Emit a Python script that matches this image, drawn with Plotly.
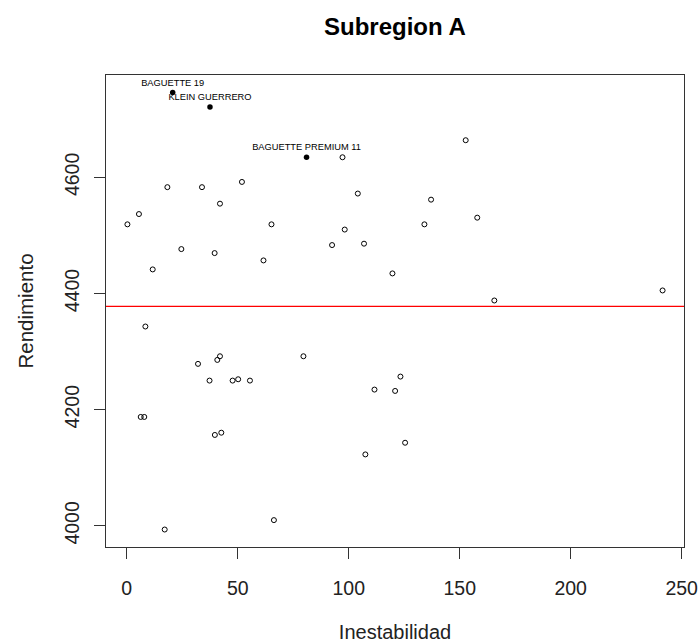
import plotly.graph_objects as go

# ---- data ----
inestabilidad = [97.2, 152.7, 18.3, 33.9, 51.9, 42.0, 5.5, 0.3, 65.2, 98.2, 104.1, 137.1,
                 157.9, 134.1, 24.6, 39.6, 61.6, 92.5, 106.9, 11.7, 119.7, 165.6, 241.4,
                 8.4, 32.1, 40.8, 42.0, 79.6, 37.3, 47.7, 50.2, 55.5, 111.6, 120.9, 123.3,
                 6.3, 7.9, 39.7, 42.6, 17.1, 66.3, 107.5, 125.4]
rendimiento = [4634.5, 4663.8, 4583, 4583, 4592, 4554.6, 4536.7, 4519, 4519, 4510, 4572,
               4561.5, 4530.5, 4519, 4476.4, 4469.5, 4456.9, 4483.3, 4485.7, 4441.4, 4434.5,
               4387.9, 4405.2, 4343.1, 4278.8, 4285.6, 4291.9, 4291.9, 4250, 4250, 4252.3,
               4250, 4234.5, 4232.2, 4256.9, 4187.4, 4187.4, 4156.4, 4160.3, 3993.6, 4009.8,
               4122.9, 4143]

etiquetas = ["BAGUETTE 19", "KLEIN GUERRERO", "BAGUETTE PREMIUM 11"]
etiq_x = [20.7, 37.5, 81.0]
etiq_y = [4746, 4721, 4634.5]

media_rendimiento = 4377.6

x_ticks = [0, 50, 100, 150, 200, 250]
y_ticks = [4000, 4200, 4400, 4600]

# R-style 4% axis extension
all_x = inestabilidad + etiq_x
all_y = rendimiento + etiq_y
sx = max(all_x) - min(all_x)
sy = max(all_y) - min(all_y)
x_range = [min(all_x) - 0.04 * sx, max(all_x) + 0.04 * sx]
y_range = [min(all_y) - 0.04 * sy, max(all_y) + 0.04 * sy]

FONT = "Liberation Sans, Arial, sans-serif"

fig = go.Figure()
fig.add_trace(go.Scatter(
    x=inestabilidad, y=rendimiento, mode="markers",
    marker=dict(symbol="circle-open", size=5, color="black", line=dict(width=1, color="black")),
    showlegend=False, hoverinfo="x+y"))
fig.add_trace(go.Scatter(
    x=etiq_x, y=etiq_y, mode="markers+text", text=etiquetas,
    textposition="top center",
    textfont=dict(family=FONT, size=9.3, color="black"),
    marker=dict(symbol="circle", size=5.5, color="black"),
    showlegend=False, hoverinfo="text+x+y"))

fig.add_shape(type="line", xref="paper", x0=0, x1=1, yref="y",
              y0=media_rendimiento, y1=media_rendimiento,
              line=dict(color="#ff0000", width=1.3))

fig.add_annotation(text="<b>Subregion A</b>", xref="paper", x=0.5, xanchor="center",
                   yref="paper", y=1, yshift=49, yanchor="middle", showarrow=False,
                   font=dict(family=FONT, size=24, color="black"))

fig.update_layout(
    width=698, height=643,
    margin=dict(l=106, r=14, t=75, b=96),
    paper_bgcolor="white", plot_bgcolor="white",
    font=dict(family=FONT, color="black"),
)
fig.update_xaxes(
    range=x_range, tickmode="array", tickvals=x_ticks, automargin=False,
    showgrid=False, zeroline=False,
    showline=True, mirror=True, linecolor="#333333", linewidth=1,
    ticks="outside", ticklen=11, tickwidth=1, tickcolor="#333333",
    tickfont=dict(family=FONT, size=19.5, color="#222222"),
    ticklabelstandoff=13, ticklabeloverflow="allow",
    title=dict(text="Inestabilidad", font=dict(family=FONT, size=20, color="#222222"), standoff=36),
)
fig.update_yaxes(
    range=y_range, tickmode="array", tickvals=y_ticks, automargin=False,
    showgrid=False, zeroline=False,
    showline=True, mirror=True, linecolor="#333333", linewidth=1,
    ticks="outside", ticklen=11, tickwidth=1, tickcolor="#333333",
    tickangle=-90,
    tickfont=dict(family=FONT, size=19.5, color="#222222"),
    ticklabelstandoff=7, ticklabeloverflow="allow",
    title=dict(text="Rendimiento", font=dict(family=FONT, size=20.5, color="#222222"), standoff=22),
)

fig.write_html("out.html", config={"displayModeBar": False},
               post_script="document.body.style.margin='0';document.body.style.overflow='hidden';")
